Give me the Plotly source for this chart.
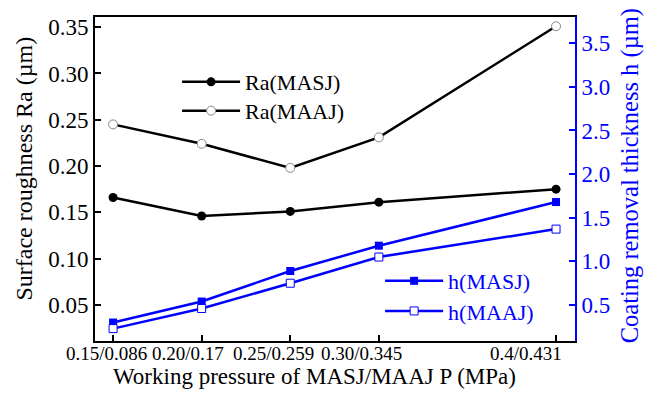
import plotly.graph_objects as go

# Working pressure (MASJ value used as the x position) and the paired tick labels
pressure = [0.15, 0.20, 0.25, 0.30, 0.40]
tick_labels = ["0.15/0.086", "0.20/0.17", "0.25/0.259", "0.30/0.345", "0.4/0.431"]

# Surface roughness Ra (µm)
ra_masj = [0.166, 0.146, 0.151, 0.161, 0.175]
ra_maaj = [0.245, 0.224, 0.198, 0.231, 0.351]

# Coating removal thickness h (µm)
h_masj = [0.30, 0.54, 0.89, 1.18, 1.68]
h_maaj = [0.23, 0.46, 0.75, 1.05, 1.37]

FONT = "Liberation Serif"
BLUE = "#0000ff"
label_shift = [-7, -14, -17, -17, -30]  # pixel nudges for the x tick labels

fig = go.Figure()

fig.add_trace(go.Scatter(
    x=pressure, y=ra_masj, name="Ra(MASJ)", mode="lines+markers",
    line=dict(color="black", width=2.5),
    marker=dict(symbol="circle", size=9, color="black"),
    legend="legend", showlegend=True))
fig.add_trace(go.Scatter(
    x=pressure, y=ra_maaj, name="Ra(MAAJ)", mode="lines+markers",
    line=dict(color="black", width=2.5),
    marker=dict(symbol="circle", size=9, color="white",
                line=dict(color="#8a8a8a", width=1)),
    legend="legend2", showlegend=True))
fig.add_trace(go.Scatter(
    x=pressure, y=h_masj, name="h(MASJ)", mode="lines+markers", yaxis="y2",
    line=dict(color=BLUE, width=2.5),
    marker=dict(symbol="square", size=8, color=BLUE),
    legend="legend3", showlegend=True))
fig.add_trace(go.Scatter(
    x=pressure, y=h_maaj, name="h(MAAJ)", mode="lines+markers", yaxis="y2",
    line=dict(color=BLUE, width=2.5),
    marker=dict(symbol="square", size=8, color="white",
                line=dict(color=BLUE, width=1)),
    legend="legend4", showlegend=True))

annotations = []
for xv, txt, dx in zip(pressure, tick_labels, label_shift):
    annotations.append(dict(
        x=xv, xref="x", y=0, yref="paper", yanchor="top", xanchor="center",
        text=txt, showarrow=False, xshift=dx, yshift=0,
        font=dict(family=FONT, size=19, color="black")))

annotations += [
    dict(x=0.458, xref="paper", y=0, yref="paper", yanchor="top", xanchor="center",
         yshift=-21, text="Working pressure of MASJ/MAAJ P (MPa)", showarrow=False,
         font=dict(family=FONT, size=23, color="black")),
    dict(x=-0.148, xref="paper", y=0.532, yref="paper", xanchor="center",
         yanchor="middle", textangle=-90, text="Surface roughness Ra (µm)",
         showarrow=False, font=dict(family=FONT, size=24, color="black")),
    dict(x=1.115, xref="paper", y=0.509, yref="paper", xanchor="center",
         yanchor="middle", textangle=-90, text="Coating removal thickness h (µm)",
         showarrow=False, font=dict(family=FONT, size=24.5, color=BLUE)),
]


def legend_box(x, y, color):
    return dict(x=x, y=y, xanchor="left", yanchor="top", bgcolor="rgba(0,0,0,0)",
                itemwidth=58, font=dict(family=FONT, size=22, color=color))


fig.update_layout(
    width=656, height=408,
    showlegend=True,
    margin=dict(l=95, r=81, t=17, b=67),
    paper_bgcolor="white", plot_bgcolor="white",
    font=dict(family=FONT, size=22, color="black"),
    xaxis=dict(range=[0.1398, 0.4107], tickvals=pressure, showticklabels=False,
               ticks="inside", ticklen=6, tickwidth=2, tickcolor="black",
               showline=True, linecolor="black", linewidth=2, mirror=True,
               showgrid=False, zeroline=False),
    yaxis=dict(range=[0.011, 0.361], tickvals=[0.05, 0.10, 0.15, 0.20, 0.25, 0.30, 0.35],
               tickformat=".2f", ticks="inside", ticklen=6, tickwidth=2,
               tickcolor="black", showline=True, linecolor="black", linewidth=2,
               showgrid=False, zeroline=False,
               tickfont=dict(family=FONT, size=23, color="black")),
    yaxis2=dict(range=[0.088, 3.80], tickvals=[0.5, 1.0, 1.5, 2.0, 2.5, 3.0, 3.5],
                tickformat=".1f", overlaying="y", side="right", ticks="inside",
                ticklen=6, tickwidth=2, tickcolor=BLUE, showline=True,
                linecolor=BLUE, linewidth=2, showgrid=False, zeroline=False,
                tickfont=dict(family=FONT, size=23, color=BLUE)),
    legend=legend_box(0.171, 0.864, "black"),
    legend2=legend_box(0.171, 0.775, "black"),
    legend3=legend_box(0.594, 0.25, BLUE),
    legend4=legend_box(0.594, 0.157, BLUE),
    annotations=annotations,
)

fig.write_html("out.html")
